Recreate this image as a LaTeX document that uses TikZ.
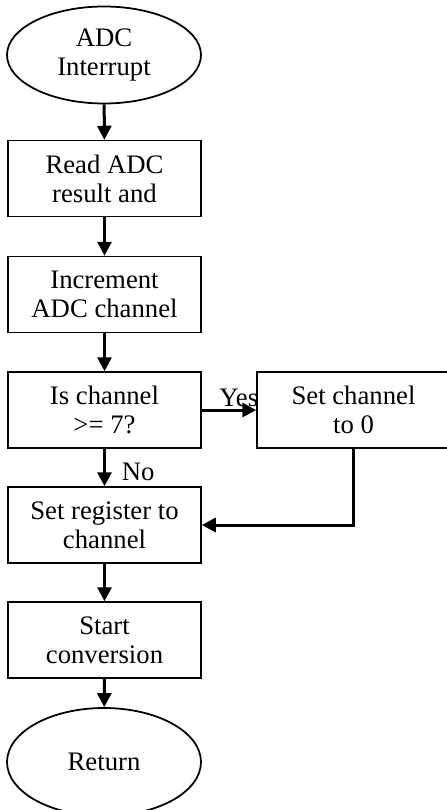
\documentclass[tikz,border=0pt]{standalone}
\usepackage{fontspec}
\setmainfont{Liberation Serif}
\usetikzlibrary{arrows.meta,shapes.geometric}

\begin{document}
\begin{tikzpicture}[-{Triangle[length=0.28cm,width=0.28cm]},line width=0.06cm,
        end node/.style={ellipse,draw,line width=0.035cm,minimum width=3.88cm,
            minimum height=1.94cm,inner sep=0pt,align=center,font=\fontsize{15.2}{16.6}\selectfont},
        main node/.style={rectangle,draw,line width=0.03cm,minimum width=3.86cm,
            minimum height=1.52cm,inner sep=0pt,align=center,font=\fontsize{15.2}{16.6}\selectfont}]

    \useasboundingbox (0,0) rectangle (8.92,-16.2);

    \node[end node] (irq) at (2.08,-1.1) {\rule{0pt}{0.3cm}ADC\\Interrupt};
    \node[main node] (read) at (2.09,-3.57) {Read ADC\\result and};
    \node[main node] (inc) at (2.09,-5.89) {Increment\\ADC channel};
    \node[main node] (chk) at (2.09,-8.2) {Is channel\\>= 7?};
    \node[main node] (zero) at (7.07,-8.2) {Set channel\\to 0};
    \node[main node] (reg) at (2.09,-10.5) {Set register to\\channel};
    \node[main node] (conv) at (2.09,-12.8) {Start\\conversion};
    \node[end node, minimum height=2.16cm] (ret) at (2.08,-15.24) {Return};

    \path[every node/.style={font=\fontsize{15.2}{16.6}\selectfont,inner sep=1pt}]
    (irq) edge (read)
    (read) edge (inc)
    (inc) edge (chk)
    (chk) edge node[above, pos=0.68] {Yes} (zero)
    (chk) edge node[right=0.28cm, pos=0.62] {No} (reg)
    (reg) edge (conv)
    (conv) edge (ret);

    \draw (zero.south) |- (reg.east);

\end{tikzpicture}
\end{document}
